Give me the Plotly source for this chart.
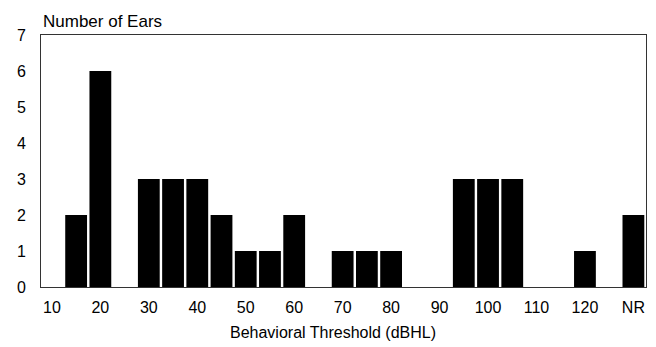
import plotly.graph_objects as go

categories = ["10", "15", "20", "25", "30", "35", "40", "45", "50", "55", "60", "65",
              "70", "75", "80", "85", "90", "95", "100", "105", "110", "115", "120", "125", "NR"]
counts = [0, 2, 6, 0, 3, 3, 3, 2, 1, 1, 2, 0,
          1, 1, 1, 0, 0, 3, 3, 3, 0, 0, 1, 0, 2]
x_tick_labels = ["10", "20", "30", "40", "50", "60", "70", "80", "90", "100", "110", "120", "NR"]
y_tick_values = [0, 1, 2, 3, 4, 5, 6, 7]

font_family = "Liberation Sans, Arial, sans-serif"

fig = go.Figure(go.Bar(
    x=categories, y=counts,
    marker=dict(color="black", line=dict(width=0)),
    width=0.9,
))

# page body has an 8px default margin, so the figure is sized to fit the window
fig.update_layout(
    width=648, height=339,
    margin=dict(l=32, r=9, t=27, b=60),
    paper_bgcolor="white", plot_bgcolor="white",
    font=dict(family=font_family, size=16, color="black"),
    showlegend=False,
    annotations=[
        dict(text="Number of Ears", xref="paper", yref="paper", x=0, y=1,
             xanchor="left", yanchor="bottom", yshift=2, xshift=0, showarrow=False,
             font=dict(size=17, family=font_family, color="black")),
        dict(text="Behavioral Threshold (dBHL)", xref="paper", yref="paper", x=0.483, y=0,
             xanchor="center", yanchor="top", yshift=-35, showarrow=False,
             font=dict(size=16, family=font_family, color="black")),
    ],
)

fig.update_xaxes(
    type="category", categoryorder="array", categoryarray=categories,
    range=[-0.45, 24.52],
    tickmode="array", tickvals=x_tick_labels, ticktext=x_tick_labels,
    ticks="", showgrid=False, zeroline=False,
    showline=True, linecolor="#333", linewidth=1, mirror=True,
    tickfont=dict(size=16), ticklabelstandoff=6,
)
fig.update_yaxes(
    range=[0, 7], tickmode="array", tickvals=y_tick_values,
    ticks="", showgrid=False, zeroline=False,
    showline=True, linecolor="#333", linewidth=1, mirror=True,
    tickfont=dict(size=16), ticklabelstandoff=11,
)

fig.write_html("out.html")
